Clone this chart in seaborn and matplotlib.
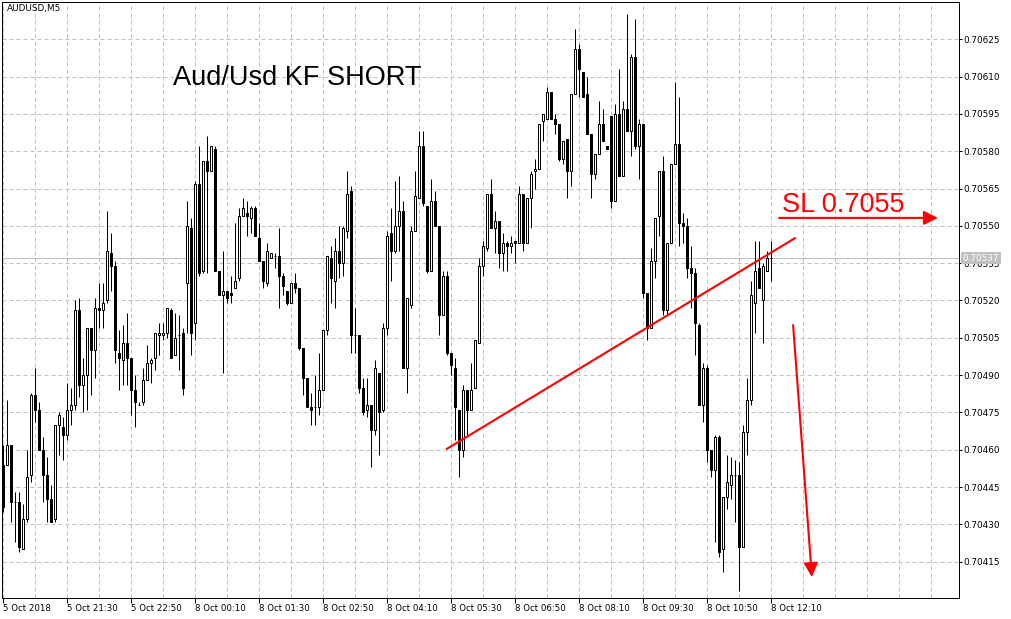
import numpy as np
import pandas as pd
import matplotlib
matplotlib.use("Agg")
import matplotlib.pyplot as plt
import matplotlib.transforms as mtransforms
from matplotlib.ticker import MultipleLocator, FixedLocator
import seaborn as sns

# ---------------- data (AUDUSD M5) ----------------
opens = [0.70454, 0.70454, 0.70462, 0.70439, 0.70439, 0.70420, 0.70432, 0.70450, 0.70482, 0.70476,
         0.70460, 0.70450, 0.70440, 0.70432, 0.70470, 0.70469, 0.70466, 0.70476, 0.70478, 0.70516,
         0.70486, 0.70490, 0.70509, 0.70500, 0.70517, 0.70516, 0.70520, 0.70539, 0.70534, 0.70499,
         0.70496, 0.70503, 0.70497, 0.70484, 0.70478, 0.70479, 0.70488, 0.70495, 0.70497, 0.70506,
         0.70506, 0.70507, 0.70516, 0.70498, 0.70506, 0.70507, 0.70527, 0.70549, 0.70511, 0.70567,
         0.70532, 0.70576, 0.70572, 0.70581, 0.70532, 0.70522, 0.70524, 0.70523, 0.70525, 0.70529,
         0.70554, 0.70555, 0.70553, 0.70557, 0.70545, 0.70536, 0.70527, 0.70537, 0.70538, 0.70538,
         0.70530, 0.70524, 0.70519, 0.70527, 0.70525, 0.70501, 0.70489, 0.70477, 0.70477, 0.70477,
         0.70484, 0.70508, 0.70537, 0.70528, 0.70540, 0.70535, 0.70548, 0.70564, 0.70506, 0.70506,
         0.70485, 0.70476, 0.70478, 0.70468, 0.70491, 0.70476, 0.70509, 0.70547, 0.70540, 0.70550,
         0.70556, 0.70493, 0.70518, 0.70548, 0.70561, 0.70582, 0.70558, 0.70532, 0.70560, 0.70550,
         0.70514, 0.70530, 0.70499, 0.70493, 0.70476, 0.70460, 0.70484, 0.70476, 0.70485, 0.70503,
         0.70534, 0.70541, 0.70563, 0.70549, 0.70552, 0.70539, 0.70543, 0.70542, 0.70544, 0.70543,
         0.70563, 0.70543, 0.70561, 0.70572, 0.70573, 0.70592, 0.70593, 0.70604, 0.70593, 0.70591,
         0.70577, 0.70585, 0.70572, 0.70603, 0.70621, 0.70612, 0.70603, 0.70587, 0.70571, 0.70579,
         0.70591, 0.70582, 0.70594, 0.70560, 0.70595, 0.70570, 0.70597, 0.70588, 0.70618, 0.70582,
         0.70591, 0.70523, 0.70509, 0.70536, 0.70554, 0.70572, 0.70516, 0.70543, 0.70575, 0.70583,
         0.70551, 0.70550, 0.70533, 0.70531, 0.70510, 0.70478, 0.70493, 0.70460, 0.70452, 0.70465,
         0.70420, 0.70441, 0.70446, 0.70450, 0.70450, 0.70421, 0.70467, 0.70480, 0.70519, 0.70533,
         0.70520, 0.70532, 0.70537]
highs = [0.70462, 0.70480, 0.70462, 0.70443, 0.70443, 0.70438, 0.70460, 0.70483, 0.70493, 0.70479,
         0.70465, 0.70457, 0.70446, 0.70470, 0.70475, 0.70473, 0.70487, 0.70485, 0.70520, 0.70521,
         0.70497, 0.70509, 0.70509, 0.70521, 0.70527, 0.70527, 0.70556, 0.70547, 0.70536, 0.70508,
         0.70510, 0.70515, 0.70497, 0.70490, 0.70479, 0.70493, 0.70502, 0.70497, 0.70507, 0.70511,
         0.70511, 0.70517, 0.70517, 0.70515, 0.70514, 0.70509, 0.70560, 0.70553, 0.70568, 0.70582,
         0.70576, 0.70586, 0.70582, 0.70582, 0.70532, 0.70540, 0.70524, 0.70530, 0.70551, 0.70557,
         0.70561, 0.70560, 0.70558, 0.70558, 0.70551, 0.70536, 0.70543, 0.70539, 0.70539, 0.70549,
         0.70531, 0.70524, 0.70527, 0.70531, 0.70525, 0.70501, 0.70489, 0.70483, 0.70490, 0.70499,
         0.70508, 0.70538, 0.70542, 0.70545, 0.70550, 0.70550, 0.70572, 0.70566, 0.70517, 0.70506,
         0.70489, 0.70489, 0.70478, 0.70496, 0.70491, 0.70511, 0.70548, 0.70557, 0.70568, 0.70570,
         0.70560, 0.70521, 0.70550, 0.70572, 0.70588, 0.70588, 0.70558, 0.70569, 0.70564, 0.70550,
         0.70532, 0.70532, 0.70499, 0.70497, 0.70476, 0.70486, 0.70484, 0.70495, 0.70504, 0.70537,
         0.70544, 0.70563, 0.70569, 0.70556, 0.70552, 0.70547, 0.70544, 0.70546, 0.70544, 0.70566,
         0.70563, 0.70561, 0.70572, 0.70577, 0.70591, 0.70595, 0.70606, 0.70604, 0.70595, 0.70591,
         0.70584, 0.70585, 0.70603, 0.70629, 0.70623, 0.70612, 0.70610, 0.70587, 0.70579, 0.70600,
         0.70597, 0.70582, 0.70594, 0.70599, 0.70613, 0.70600, 0.70635, 0.70619, 0.70633, 0.70593,
         0.70591, 0.70523, 0.70541, 0.70553, 0.70572, 0.70578, 0.70543, 0.70575, 0.70608, 0.70602,
         0.70555, 0.70553, 0.70542, 0.70533, 0.70511, 0.70495, 0.70494, 0.70460, 0.70466, 0.70466,
         0.70441, 0.70458, 0.70457, 0.70456, 0.70455, 0.70470, 0.70489, 0.70528, 0.70544, 0.70544,
         0.70535, 0.70540, 0.70544]
lows = [0.70435, 0.70454, 0.70431, 0.70423, 0.70419, 0.70420, 0.70431, 0.70447, 0.70471, 0.70460,
        0.70439, 0.70431, 0.70431, 0.70431, 0.70458, 0.70456, 0.70464, 0.70470, 0.70476, 0.70481,
        0.70475, 0.70476, 0.70482, 0.70489, 0.70509, 0.70509, 0.70519, 0.70524, 0.70495, 0.70484,
        0.70486, 0.70486, 0.70474, 0.70469, 0.70478, 0.70478, 0.70488, 0.70487, 0.70492, 0.70498,
        0.70504, 0.70505, 0.70497, 0.70498, 0.70492, 0.70482, 0.70507, 0.70498, 0.70504, 0.70530,
        0.70531, 0.70531, 0.70572, 0.70532, 0.70522, 0.70491, 0.70519, 0.70519, 0.70525, 0.70528,
        0.70554, 0.70546, 0.70547, 0.70546, 0.70536, 0.70525, 0.70526, 0.70537, 0.70533, 0.70517,
        0.70522, 0.70518, 0.70519, 0.70523, 0.70500, 0.70482, 0.70477, 0.70470, 0.70470, 0.70474,
        0.70484, 0.70506, 0.70519, 0.70517, 0.70529, 0.70530, 0.70545, 0.70499, 0.70499, 0.70483,
        0.70474, 0.70473, 0.70453, 0.70466, 0.70458, 0.70475, 0.70506, 0.70528, 0.70539, 0.70540,
        0.70493, 0.70483, 0.70517, 0.70548, 0.70561, 0.70558, 0.70531, 0.70532, 0.70550, 0.70506,
        0.70514, 0.70498, 0.70490, 0.70464, 0.70449, 0.70457, 0.70466, 0.70476, 0.70485, 0.70503,
        0.70530, 0.70540, 0.70549, 0.70539, 0.70533, 0.70532, 0.70532, 0.70539, 0.70535, 0.70543,
        0.70540, 0.70543, 0.70549, 0.70565, 0.70573, 0.70584, 0.70593, 0.70593, 0.70587, 0.70576,
        0.70575, 0.70561, 0.70566, 0.70603, 0.70602, 0.70602, 0.70587, 0.70561, 0.70569, 0.70579,
        0.70584, 0.70581, 0.70557, 0.70560, 0.70570, 0.70570, 0.70588, 0.70578, 0.70581, 0.70569,
        0.70521, 0.70504, 0.70509, 0.70529, 0.70546, 0.70514, 0.70514, 0.70543, 0.70575, 0.70542,
        0.70543, 0.70529, 0.70517, 0.70498, 0.70478, 0.70471, 0.70455, 0.70449, 0.70423, 0.70417,
        0.70411, 0.70436, 0.70440, 0.70431, 0.70403, 0.70421, 0.70458, 0.70478, 0.70507, 0.70525,
        0.70503, 0.70532, 0.70528]
closes = [0.70437, 0.70462, 0.70439, 0.70439, 0.70421, 0.70432, 0.70449, 0.70482, 0.70476, 0.70460,
          0.70450, 0.70440, 0.70431, 0.70470, 0.70474, 0.70466, 0.70476, 0.70478, 0.70516, 0.70486,
          0.70490, 0.70509, 0.70500, 0.70517, 0.70516, 0.70519, 0.70540, 0.70534, 0.70500, 0.70497,
          0.70503, 0.70497, 0.70484, 0.70479, 0.70478, 0.70488, 0.70495, 0.70496, 0.70507, 0.70507,
          0.70507, 0.70517, 0.70497, 0.70505, 0.70506, 0.70485, 0.70550, 0.70507, 0.70567, 0.70531,
          0.70576, 0.70572, 0.70582, 0.70532, 0.70522, 0.70524, 0.70521, 0.70522, 0.70528, 0.70554,
          0.70557, 0.70554, 0.70557, 0.70546, 0.70536, 0.70528, 0.70540, 0.70539, 0.70538, 0.70530,
          0.70526, 0.70519, 0.70527, 0.70525, 0.70501, 0.70489, 0.70477, 0.70476, 0.70477, 0.70484,
          0.70508, 0.70538, 0.70529, 0.70540, 0.70535, 0.70549, 0.70563, 0.70506, 0.70506, 0.70485,
          0.70475, 0.70478, 0.70468, 0.70493, 0.70475, 0.70509, 0.70546, 0.70540, 0.70550, 0.70556,
          0.70493, 0.70521, 0.70548, 0.70562, 0.70582, 0.70559, 0.70532, 0.70560, 0.70550, 0.70514,
          0.70530, 0.70499, 0.70494, 0.70477, 0.70460, 0.70484, 0.70476, 0.70484, 0.70504, 0.70534,
          0.70542, 0.70563, 0.70549, 0.70552, 0.70539, 0.70543, 0.70542, 0.70543, 0.70543, 0.70563,
          0.70543, 0.70561, 0.70571, 0.70573, 0.70591, 0.70595, 0.70604, 0.70593, 0.70591, 0.70577,
          0.70584, 0.70572, 0.70603, 0.70621, 0.70613, 0.70602, 0.70587, 0.70571, 0.70579, 0.70591,
          0.70584, 0.70581, 0.70560, 0.70595, 0.70570, 0.70597, 0.70588, 0.70618, 0.70582, 0.70591,
          0.70523, 0.70509, 0.70536, 0.70553, 0.70572, 0.70516, 0.70543, 0.70575, 0.70583, 0.70551,
          0.70550, 0.70533, 0.70531, 0.70511, 0.70478, 0.70493, 0.70460, 0.70452, 0.70465, 0.70419,
          0.70441, 0.70447, 0.70450, 0.70450, 0.70421, 0.70467, 0.70480, 0.70522, 0.70532, 0.70525,
          0.70534, 0.70537, 0.70537]

x_tick_bars = [0, 16, 32, 48, 64, 80, 96, 112, 128, 144, 160, 176, 192]
x_tick_labels = ["5 Oct 2018", "5 Oct 21:30", "5 Oct 22:50", "8 Oct 00:10", "8 Oct 01:30",
                 "8 Oct 02:50", "8 Oct 04:10", "8 Oct 05:30", "8 Oct 06:50", "8 Oct 08:10",
                 "8 Oct 09:30", "8 Oct 10:50", "8 Oct 12:10"]
y_ticks = [0.70415, 0.70430, 0.70445, 0.70460, 0.70475, 0.70490, 0.70505, 0.70520,
           0.70535, 0.70550, 0.70565, 0.70580, 0.70595, 0.70610, 0.70625]
current_price = 0.70537

# trader's drawings (bar index, price)
trend_bars = [111.0, 198.1]
trend_prices = [0.704603, 0.705451]
sl_arrow_bars = [194.1, 233.8]
sl_arrow_price = 0.705532
down_arrow_bars = [197.6, 202.3]
down_arrow_prices = [0.705101, 0.704088]

# ---------------- figure ----------------
sns.set_theme(style="white")
plt.rcParams['font.family'] = ['DejaVu Sans']

W, H = 1012, 619
fig = plt.figure(figsize=(W / 100, H / 100), dpi=100)
fig.patch.set_facecolor('white')
ax = fig.add_axes([2 / W, 1 - 597.7 / H, 957.3 / W, 595.7 / H])
ax.set_facecolor('white')

df = pd.DataFrame({"open": opens, "high": highs, "low": lows, "close": closes})
df["bar"] = np.arange(len(df))
up = df[df["close"] >= df["open"]]
dn = df[df["close"] < df["open"]]

px = 0.72  # one pixel in points
grid_kw = dict(color='#c0c0c0', linestyle=(0, (4, 3)), linewidth=px)

# wicks
ax.vlines(df["bar"], df["low"], df["high"], color='black', linewidth=px, zorder=3)
# bodies
ax.bar(up["bar"], up["close"] - up["open"], bottom=up["open"], width=0.5,
       color='white', edgecolor='black', linewidth=px, zorder=4)
ax.bar(dn["bar"], dn["open"] - dn["close"], bottom=dn["close"], width=0.5,
       color='black', edgecolor='black', linewidth=px, zorder=4)

# current price line
ax.axhline(current_price, color='#c0c0c0', linewidth=px, zorder=1.5)

# trend line (seaborn)
sns.lineplot(x=trend_bars, y=trend_prices, ax=ax, color='#ff0000', linewidth=1.5,
             zorder=6, legend=False)

# SL arrow
ax.annotate("", xy=(sl_arrow_bars[1], sl_arrow_price), xytext=(sl_arrow_bars[0], sl_arrow_price),
            arrowprops=dict(arrowstyle='-|>,head_length=0.6,head_width=0.3', color='#ff0000',
                            lw=1.5, shrinkA=0, shrinkB=0, mutation_scale=14), zorder=6)
# down arrow
ax.annotate("", xy=(down_arrow_bars[1], down_arrow_prices[1]),
            xytext=(down_arrow_bars[0], down_arrow_prices[0]),
            arrowprops=dict(arrowstyle='-|>,head_length=0.6,head_width=0.3', color='#ff0000',
                            lw=1.5, shrinkA=0, shrinkB=0, mutation_scale=14), zorder=6)

# axes limits
ax.set_xlim(-0.175, 239.15)
ax.set_ylim(0.704005, 0.706400)

# ticks
ax.yaxis.tick_right()
ax.set_yticks(y_ticks)
ax.set_yticklabels([f"{v:.5f}" for v in y_ticks])
ax.set_xticks(x_tick_bars)
ax.set_xticklabels(x_tick_labels)
for lbl in ax.get_xticklabels():
    lbl.set_ha('left')
ax.xaxis.set_minor_locator(MultipleLocator(8))
ax.tick_params(axis='y', which='major', direction='out', length=2.3, width=px, pad=0.6,
               labelsize=6.4, colors='black', right=True, left=False)
ax.tick_params(axis='x', which='major', direction='out', length=3.6, width=px, pad=0.6,
               labelsize=6.2, colors='black', bottom=True)
ax.tick_params(axis='x', which='minor', length=0)

# grid
ax.grid(False)
ax.yaxis.grid(True, which='major', **grid_kw)
ax.xaxis.grid(True, which='both', **grid_kw)
ax.set_axisbelow(True)

for s in ax.spines.values():
    s.set_color('black')
    s.set_linewidth(px)
    s.set_visible(True)

# current price label on the axis
trans = mtransforms.blended_transform_factory(ax.transAxes, ax.transData)
ax.text(1.0033, current_price, f"{current_price:.5f}", transform=trans, ha='left', va='center',
        fontsize=6.4, color='white', zorder=10, clip_on=False,
        bbox=dict(boxstyle='square,pad=0.18', fc='#c0c0c0', ec='none'))

# texts
fig.text(7 / W, 1 - 3.5 / H, "AUDUSD,M5", ha='left', va='top', fontsize=6.4, color='black')
fig.text(173 / W, 1 - 85 / H, "Aud/Usd KF SHORT", ha='left', va='baseline', fontsize=19.5,
         color='black', family=['Liberation Sans', 'DejaVu Sans'])
fig.text(782 / W, 1 - 212 / H, "SL 0.7055", ha='left', va='baseline', fontsize=19.5,
         color='#ff0000', family=['Liberation Sans', 'DejaVu Sans'])

fig.savefig("out.png", dpi=100, facecolor='white')
